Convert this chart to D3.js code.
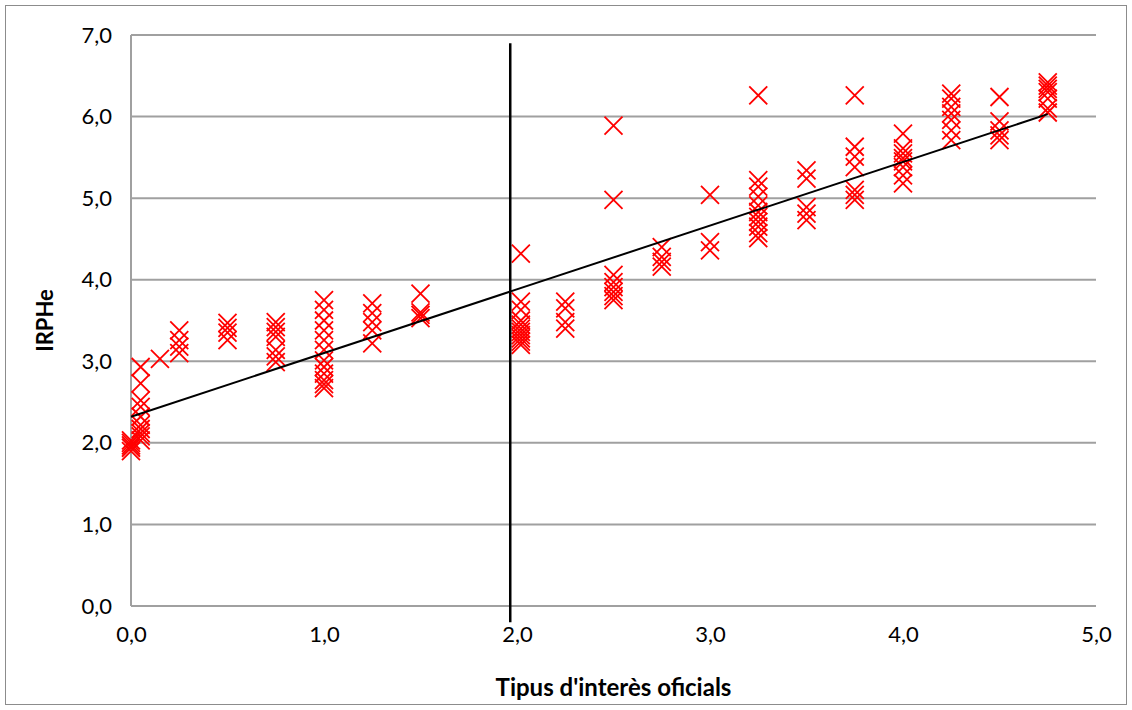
<!DOCTYPE html>
<html>
<head>
<meta charset="utf-8">
<script src="https://d3js.org/d3.v7.min.js"></script>
<style>
  body { margin: 0; background: #fff; }
  text { font-family: Lato, "Open Sans", sans-serif; fill: #000; }
</style>
</head>
<body>
<div id="chart"></div>
<script>
// x values (official rate) and IRPHe readings, one column of points per rate
const rates = [0, 0.05, 0.15, 0.25, 0.5, 0.75, 1.0, 1.25, 1.5, 2.02, 2.25, 2.5, 2.75, 3.0, 3.25, 3.5, 3.75, 4.0, 4.25, 4.5, 4.75];
const irphe = [
  [1.9, 1.94, 1.97, 2.0, 2.03],
  [2.03, 2.08, 2.12, 2.17, 2.22, 2.32, 2.44, 2.52, 2.73, 2.93],
  [3.03],
  [3.1, 3.18, 3.26, 3.38],
  [3.26, 3.35, 3.41, 3.47],
  [2.99, 3.06, 3.14, 3.3, 3.36, 3.42, 3.48],
  [2.67, 2.72, 2.77, 2.85, 2.93, 3.01, 3.14, 3.26, 3.38, 3.5, 3.63, 3.75],
  [3.22, 3.38, 3.48, 3.59, 3.71],
  [3.53, 3.57, 3.6, 3.83],
  [3.2, 3.24, 3.28, 3.32, 3.36, 3.4, 3.45, 3.5, 3.63, 3.73, 4.32],
  [3.4, 3.48, 3.65, 3.73],
  [3.75, 3.8, 3.85, 3.91, 3.97, 4.06, 4.98, 5.89],
  [4.16, 4.22, 4.28, 4.4],
  [4.36, 4.46, 5.04],
  [4.51, 4.57, 4.65, 4.71, 4.77, 4.83, 4.91, 5.02, 5.14, 5.22, 6.26],
  [4.73, 4.81, 4.89, 5.24, 5.34],
  [4.98, 5.04, 5.1, 5.38, 5.51, 5.63, 6.26],
  [5.18, 5.28, 5.38, 5.45, 5.49, 5.55, 5.61, 5.79],
  [5.71, 5.83, 5.96, 6.04, 6.12, 6.22, 6.28],
  [5.71, 5.77, 5.83, 5.94, 6.24],
  [6.05, 6.1, 6.22, 6.3, 6.34, 6.38, 6.42]
];
const trend = [[0, 2.32], [4.75, 6.03]];
const cutLine = [[1.965, -0.2], [1.965, 6.9]];
const xTicks = [0, 1, 2, 3, 4, 5];
const yTicks = [0, 1, 2, 3, 4, 5, 6, 7];

const W = 1132, H = 710;
const margin = { top: 35, right: 36, bottom: 104, left: 131 };

const svg = d3.select("#chart").append("svg")
  .attr("width", W).attr("height", H);

// outer chart border
svg.append("rect")
  .attr("x", 5.5).attr("y", 5.5)
  .attr("width", W - 11).attr("height", H - 11)
  .attr("fill", "none").attr("stroke", "#8c8c8c").attr("stroke-width", 1);

const x = d3.scaleLinear().domain([0, 5]).range([margin.left, W - margin.right]);
const y = d3.scaleLinear().domain([0, 7]).range([H - margin.bottom, margin.top]);

const fmt = d => d3.format(".1f")(d).replace(".", ",");

// horizontal gridlines
svg.append("g")
  .selectAll("line")
  .data(yTicks)
  .join("line")
  .attr("x1", x(0)).attr("x2", x(5))
  .attr("y1", d => y(d)).attr("y2", d => y(d))
  .attr("stroke", "#a0a0a0").attr("stroke-width", 2);

// y axis line
svg.append("line")
  .attr("x1", x(0)).attr("x2", x(0))
  .attr("y1", y(0)).attr("y2", y(7))
  .attr("stroke", "#a0a0a0").attr("stroke-width", 2);

// axes (labels only)
const yAxis = svg.append("g")
  .attr("transform", `translate(${x(0) - 10},0)`)
  .call(d3.axisLeft(y).tickValues(yTicks).tickFormat(fmt).tickSize(0));
yAxis.select(".domain").remove();
yAxis.selectAll("text").style("font-size", "22px").attr("dx", "-6");

const xAxis = svg.append("g")
  .attr("transform", `translate(0,${y(0) + 17})`)
  .call(d3.axisBottom(x).tickValues(xTicks).tickFormat(fmt).tickSize(0));
xAxis.select(".domain").remove();
xAxis.selectAll("text").style("font-size", "22px");

// axis titles
svg.append("text")
  .attr("x", (x(0) + x(5)) / 2).attr("y", 696)
  .attr("text-anchor", "middle")
  .style("font-size", "24px").style("font-weight", "bold")
  .text("Tipus d'interès oficials");

svg.append("text")
  .attr("transform", `translate(53,${(y(0) + y(7)) / 2}) rotate(-90)`)
  .attr("text-anchor", "middle")
  .style("font-size", "22px").style("font-weight", "bold")
  .text("IRPHe");

// scatter points as x markers
const pts = [];
rates.forEach((r, i) => irphe[i].forEach(v => pts.push({ r: r, v: v })));
const s = 9;
svg.append("g")
  .selectAll("path")
  .data(pts)
  .join("path")
  .attr("d", d => {
    const cx = x(d.r), cy = y(d.v);
    return `M${cx - s},${cy - s}L${cx + s},${cy + s}M${cx - s},${cy + s}L${cx + s},${cy - s}`;
  })
  .attr("fill", "none").attr("stroke", "#ff0000").attr("stroke-width", 1.8);

const line = d3.line().x(d => x(d[0])).y(d => y(d[1]));

// linear trend
svg.append("path")
  .datum(trend)
  .attr("d", line)
  .attr("fill", "none").attr("stroke", "#000").attr("stroke-width", 2);

// vertical line near 2,0
svg.append("path")
  .datum(cutLine)
  .attr("d", line)
  .attr("fill", "none").attr("stroke", "#000").attr("stroke-width", 2.5);
</script>
</body>
</html>
